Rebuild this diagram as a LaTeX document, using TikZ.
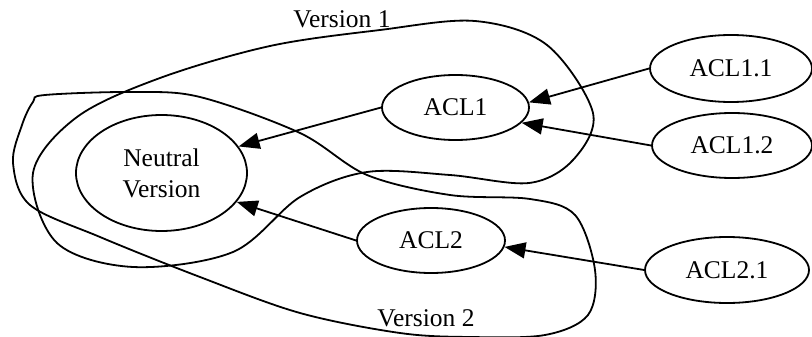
\documentclass[tikz,border=0pt]{standalone}
\usepackage{fontspec}
\setmainfont{Liberation Serif}
\usetikzlibrary{shapes.geometric,arrows.meta}
\begin{document}
\begin{tikzpicture}[x=1pt,y=-1pt,
  line width=1.8pt,
  every node/.style={font=\fontsize{25.5}{31}\selectfont},
  oval/.style={draw,ellipse,inner sep=0pt},
  arr/.style={-{Triangle[length=21pt,width=16pt]}},
  region/.style={smooth cycle,tension=0.55}]
\clip (0,0) rectangle (812,337);

% nodes
\node[oval,minimum width=171pt,minimum height=116pt,align=center] (nv) at (161.5,173) {Neutral\\Version};
\node[oval,minimum width=147pt,minimum height=65pt] (acl1) at (455.5,107.5) {ACL1};
\node[oval,minimum width=148pt,minimum height=65pt] (acl2) at (431,240.5) {ACL2};
\node[oval,minimum width=162pt,minimum height=67pt] (acl11) at (731,68.5) {ACL1.1};
\node[oval,minimum width=160pt,minimum height=65pt] (acl12) at (732,145.5) {ACL1.2};
\node[oval,minimum width=164pt,minimum height=66pt] (acl21) at (727,270) {ACL2.1};

% dependencies
\draw[arr] (acl1.west) -- (nv.19);
\draw[arr] (acl2.west) -- (nv.-21);
\draw[arr] (acl11.west) -- (acl1.4);
\draw[arr] (acl12.west) -- (acl1.-13);
\draw[arr] (acl21.west) -- (acl2.-5);

% version regions
\draw plot[region] coordinates {
  (33,173) (57,243) (133,267) (233,252) (300,197) (367,172) (450,175)
  (529,183) (573,160) (593,113) (547,45) (475,21) (380,30) (270,46)
  (160,78) (77,117)};
\draw plot[region] coordinates {
  (45,95) (133,92) (200,97) (300,133) (367,175) (450,195) (530,199)
  (575,215) (595,270) (588,315) (545,335) (470,337) (400,333)
  (300,313) (200,277) (100,237) (30,205) (13,163) (22,125) (33,102)};

\node (v1) at (342,19) {Version 1};
\node (v2) at (426,318) {Version 2};
\end{tikzpicture}
\end{document}
